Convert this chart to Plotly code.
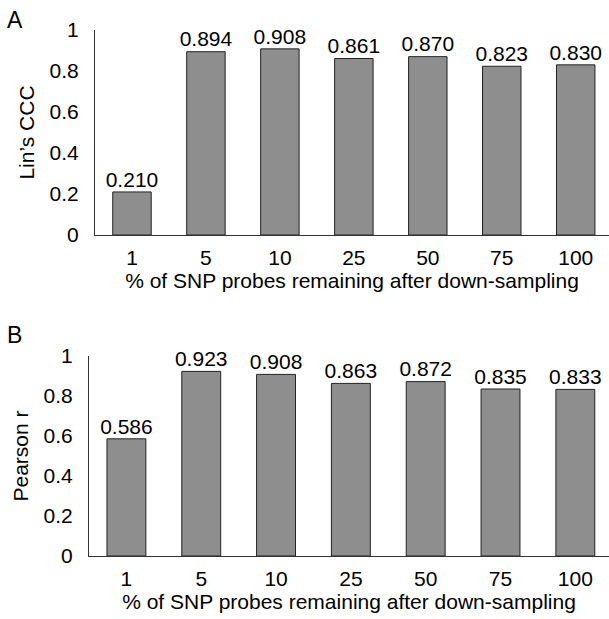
import plotly.graph_objects as go

categories = ["1", "5", "10", "25", "50", "75", "100"]
ccc_values = [0.210, 0.894, 0.908, 0.861, 0.870, 0.823, 0.830]
pearson_values = [0.586, 0.923, 0.908, 0.863, 0.872, 0.835, 0.833]
x_title = "% of SNP probes remaining after down-sampling"

W, H = 609, 619
FONT = "Liberation Sans, Arial, Helvetica, sans-serif"
BAR_COLOR = "#8e8e8e"
FS = 21

def py(px):
    return 1 - px / H

fig = go.Figure()
pos = list(range(len(categories)))

panels = [
    ("x", "y", ccc_values),
    ("x2", "y2", pearson_values),
]

for xa, ya, vals in panels:
    fig.add_trace(go.Bar(
        x=pos, y=vals, xaxis=xa, yaxis=ya, width=0.52,
        marker=dict(color=BAR_COLOR, line=dict(color="#222222", width=1)),
        showlegend=False, hoverinfo="skip",
    ))
    fig.add_trace(go.Scatter(
        x=pos, y=vals, xaxis=xa, yaxis=ya, mode="text",
        text=[f"{v:.3f}" for v in vals], textposition="top center",
        textfont=dict(size=FS, color="black", family=FONT),
        cliponaxis=False, showlegend=False, hoverinfo="skip",
    ))

axis_common = dict(showline=True, linecolor="#333333", linewidth=1,
                   showgrid=False, zeroline=False, ticks="", automargin=False,
                   tickfont=dict(size=FS, color="black", family=FONT))

fig.update_layout(
    template="none",
    width=W, height=H,
    margin=dict(l=0, r=0, t=0, b=0),
    paper_bgcolor="white", plot_bgcolor="white",
    font=dict(family=FONT, color="black"),
    xaxis=dict(domain=[95 / W, 1], anchor="y", range=[-0.5, 6.45],
               tickmode="array", tickvals=pos, ticktext=categories,
               ticklabelstandoff=4,
               title=dict(text=x_title, font=dict(size=FS), standoff=2),
               **axis_common),
    yaxis=dict(domain=[py(235), py(30)], anchor="x", range=[0, 1],
               tickvals=[0, 0.2, 0.4, 0.6, 0.8, 1], ticklabelstandoff=11,
               title=dict(text="Lin’s CCC", font=dict(size=FS), standoff=9),
               **axis_common),
    xaxis2=dict(domain=[89 / W, 1], anchor="y2", range=[-0.5, 6.45],
                tickmode="array", tickvals=pos, ticktext=categories,
                ticklabelstandoff=4,
                title=dict(text=x_title, font=dict(size=FS), standoff=2),
                **axis_common),
    yaxis2=dict(domain=[py(556), py(356)], anchor="x2", range=[0, 1],
                tickvals=[0, 0.2, 0.4, 0.6, 0.8, 1], ticklabelstandoff=11,
                title=dict(text="Pearson r", font=dict(size=FS), standoff=9),
                **axis_common),
    annotations=[
        dict(text="A", x=5 / W, y=py(5), xref="paper", yref="paper",
             xanchor="left", yanchor="top", showarrow=False,
             font=dict(size=23, family=FONT, color="black")),
        dict(text="B", x=5 / W, y=py(320), xref="paper", yref="paper",
             xanchor="left", yanchor="top", showarrow=False,
             font=dict(size=23, family=FONT, color="black")),
    ],
)

fig.write_html("out.html")
